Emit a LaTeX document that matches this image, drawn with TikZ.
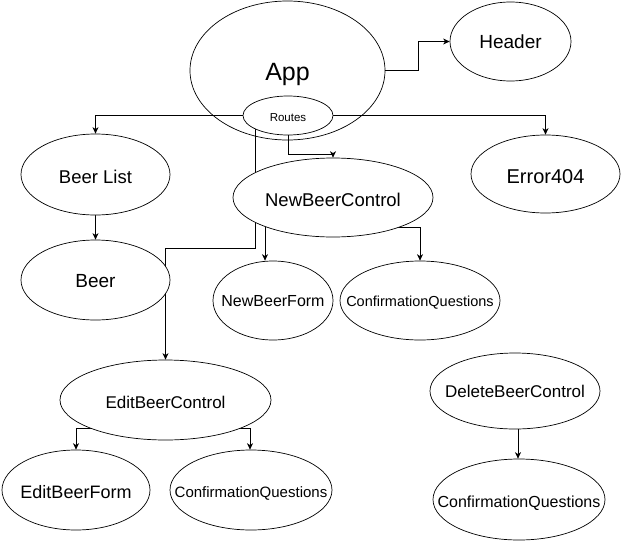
\documentclass[tikz,border=0pt]{standalone}
\usepackage{fontspec}
\setmainfont{Liberation Sans}
\usetikzlibrary{shapes.geometric,arrows.meta}
\pgfdeclarelayer{bg}
\pgfdeclarelayer{edges}
\pgfsetlayers{bg,edges,main}
\newcommand{\lbl}[3][0.98]{{\fontsize{#2}{#2}\selectfont\makebox[0pt]{\rule{0pt}{#1em}\smash{#3}}}}
\tikzset{
  ell/.style={ellipse, draw, line width=0.7pt, fill=white, inner sep=0pt},
  arr/.style={line width=0.8pt, -{Stealth[length=6.5pt,width=6pt,inset=2pt]}},
}
\begin{document}
\begin{tikzpicture}[x=1pt,y=-1pt]
\useasboundingbox (0,0) rectangle (621,541);
\begin{pgfonlayer}{bg}
\node[ell, minimum width=195pt, minimum height=139pt] (App) at (287.5,70.5) {\lbl[0.78]{25}{App}};
\end{pgfonlayer}
\node[ell, minimum width=90pt, minimum height=39pt] (Routes) at (288,115.5) {\lbl{11.5}{Routes}};
\node[ell, minimum width=121pt, minimum height=79pt] (Header) at (510.5,41.5) {\lbl[0.76]{19}{Header}};
\node[ell, minimum width=149pt, minimum height=78pt] (Err) at (545.5,174) {\lbl{20}{Error404}};
\node[ell, minimum width=149pt, minimum height=81pt] (BeerList) at (95.5,174.5) {\lbl{18.5}{Beer List}};
\node[ell, minimum width=200pt, minimum height=79pt] (NBC) at (333,197.5) {\lbl{18.5}{NewBeerControl}};
\node[ell, minimum width=149pt, minimum height=80pt] (Beer) at (95.5,280) {\lbl[0.74]{19}{Beer}};
\node[ell, minimum width=120pt, minimum height=79pt] (NBF) at (273,300.5) {\lbl[0.8]{16}{NewBeerForm}};
\node[ell, minimum width=160pt, minimum height=79pt] (CQa) at (420,300.5) {\lbl[0.8]{14.5}{ConfirmationQuestions}};
\node[ell, minimum width=211pt, minimum height=80pt] (EBC) at (165.5,400) {\lbl{17}{EditBeerControl}};
\node[ell, minimum width=148pt, minimum height=80pt] (EBF) at (76,490) {\lbl{18}{EditBeerForm}};
\node[ell, minimum width=162pt, minimum height=80pt] (CQb) at (251,490) {\lbl{15}{ConfirmationQuestions}};
\node[ell, minimum width=170pt, minimum height=76pt] (DBC) at (515,391) {\lbl[0.76]{17}{DeleteBeerControl}};
\node[ell, minimum width=172pt, minimum height=81pt] (CQc) at (519,499.5) {\lbl{16}{ConfirmationQuestions}};
\coordinate (yEdit) at (0,248);
\coordinate (yNew) at (0,227);
\coordinate (yEB) at (0,428);
\begin{pgfonlayer}{edges}
\draw[arr] (App.east) -- ++(33,0) |- (Header.west);
\draw[arr] (Routes.west) -| (BeerList.north);
\draw[arr] (Routes.east) -| (Err.north);
\draw[arr] (Routes.south) -- ++(0,19.5) -| (NBC.north);
\draw[arr] (Routes.203) -- (Routes.203 |- yEdit) -| (EBC.north);
\draw[arr] (BeerList.south) -- (Beer.north);
\draw[arr] ([xshift=-8pt]NBF.north |- NBC.center) -- ([xshift=-8pt]NBF.north);
\draw[arr] (NBC.center |- yNew) -| (CQa.north);
\draw[arr] (EBC.center |- yEB) -| (EBF.north);
\draw[arr] (EBC.center |- yEB) -| ([xshift=-1pt]CQb.north);
\draw[arr] ([xshift=-1pt]CQc.north |- DBC.center) -- ([xshift=-1pt]CQc.north);
\end{pgfonlayer}
\end{tikzpicture}
\end{document}
